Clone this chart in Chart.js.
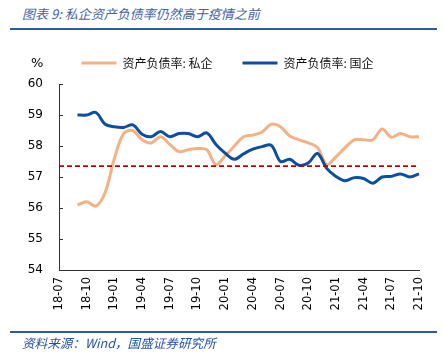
<!DOCTYPE html>
<html>
<head>
<meta charset="utf-8">
<script src="https://cdn.jsdelivr.net/npm/chart.js@4.4.0/dist/chart.umd.min.js"></script>
<style>
body { margin: 0; background: #fff; }
#wrap { position: relative; width: 444px; height: 361px; overflow: hidden; }
#title { position: absolute; left: 22px; top: 4px; font: italic 13px "Noto Sans CJK SC"; color: #4463a0; white-space: nowrap; }
.rule { position: absolute; left: 10px; width: 427px; height: 2px; background: #2f5aa0; }
#src { position: absolute; left: 22px; top: 333px; font: italic 12.6px "Noto Sans CJK SC"; color: #2452a0; white-space: nowrap; }
#unit { position: absolute; left: 31px; top: 55px; font: 13px "DejaVu Sans"; color: #000; }
canvas { position: absolute; left: 0; top: 0; }
</style>
</head>
<body>
<div id="wrap">
  <div id="title">图表 9: 私企资产负债率仍然高于疫情之前</div>
  <div class="rule" style="top:28px"></div>
  <canvas id="chart" width="444" height="361"></canvas>
  <div id="unit">%</div>
  <div class="rule" style="top:331px"></div>
  <div id="src">资料来源：Wind，国盛证券研究所</div>
</div>
<script>
// months on the x axis, every third one gets a label
const months = [
    '18-07', '18-08', '18-09', '18-10', '18-11', '18-12',
    '19-01', '19-02', '19-03', '19-04', '19-05', '19-06', '19-07', '19-08', '19-09', '19-10', '19-11', '19-12',
    '20-01', '20-02', '20-03', '20-04', '20-05', '20-06', '20-07', '20-08', '20-09', '20-10', '20-11', '20-12',
    '21-01', '21-02', '21-03', '21-04', '21-05', '21-06', '21-07', '21-08', '21-09', '21-10'
];

// 资产负债率:私企 (%)
const privateDebt = [
    null, null, 56.1, 56.2, 56.06, 56.5,
    57.6, 58.4, 58.5, 58.2, 58.1, 58.3, 58.05, 57.82, 57.88, 57.92, 57.88, 57.4,
    57.68, 58.0, 58.3, 58.35, 58.45, 58.7, 58.62, 58.32, 58.2, 58.1, 57.95, 57.4,
    57.65, 57.95, 58.2, 58.2, 58.2, 58.55, 58.28, 58.4, 58.3, 58.3
];

// 资产负债率:国企 (%)
const stateDebt = [
    null, null, 59.0, 59.0, 59.08, 58.7,
    58.62, 58.6, 58.68, 58.38, 58.3, 58.47, 58.3, 58.4, 58.4, 58.3, 58.42, 58.05,
    57.77, 57.57, 57.75, 57.9, 57.98, 58.02, 57.5, 57.57, 57.38, 57.45, 57.76, 57.28,
    57.02, 56.88, 56.98, 56.95, 56.8, 57.0, 57.02, 57.1, 57.0, 57.1
];

const seriesNames = ['资产负债率: 私企', '资产负债率: 国企'];
const yMin = 54, yMax = 60;
const preCovidLevel = 57.35;   // red dashed line

const extras = {
    id: 'extras',
    afterLayout(chart) {
        // nudge legend up and right, plot area stays put
        chart.legend.top -= 5;
        chart.legend.left += 18;
        chart.legend.right += 18;
    },
    afterDatasetsDraw(chart) {
        const { ctx, chartArea: a, scales: { y } } = chart;
        ctx.save();
        const py = y.getPixelForValue(preCovidLevel);
        ctx.strokeStyle = '#c00000';
        ctx.lineWidth = 1.6;
        ctx.setLineDash([5, 3]);
        ctx.beginPath();
        ctx.moveTo(a.left, py);
        ctx.lineTo(a.right, py);
        ctx.stroke();

        // small ticks on the inside of the y axis
        ctx.setLineDash([]);
        ctx.strokeStyle = '#333';
        ctx.lineWidth = 1;
        y.ticks.forEach(t => {
            const p = Math.round(y.getPixelForValue(t.value)) + 0.5;
            ctx.beginPath();
            ctx.moveTo(a.left, p);
            ctx.lineTo(a.left + 4, p);
            ctx.stroke();
        });
        ctx.restore();
    }
};

const ctx = document.getElementById('chart').getContext('2d');

new Chart(ctx, {
    type: 'line',
    data: {
        labels: months,
        datasets: [{
            label: seriesNames[0],
            data: privateDebt,
            borderColor: '#f4b183',
            backgroundColor: '#f4b183',
            borderWidth: 3,
            pointRadius: 0,
            tension: 0.35,
            order: 1
        }, {
            label: seriesNames[1],
            data: stateDebt,
            borderColor: '#0b4ea2',
            backgroundColor: '#0b4ea2',
            borderWidth: 3,
            pointRadius: 0,
            tension: 0.35,
            order: 0
        }]
    },
    options: {
        responsive: false,
        animation: false,
        layout: { padding: { top: 32, right: 25, bottom: 0, left: 0 } },
        plugins: {
            tooltip: { enabled: false },
            legend: {
                position: 'top',
                labels: {
                    usePointStyle: true,
                    pointStyle: 'line',
                    pointStyleWidth: 35,
                    padding: 30,
                    color: '#111',
                    font: { family: 'Noto Sans CJK SC', size: 12 },
                    sort: (a, b) => a.datasetIndex - b.datasetIndex
                }
            }
        },
        scales: {
            x: {
                grid: { display: false, drawTicks: false },
                border: { display: true, color: '#333', width: 1 },
                afterFit(s) { s.height = 91; },
                ticks: {
                    autoSkip: false,
                    minRotation: 90,
                    maxRotation: 90,
                    padding: 7,
                    color: '#000',
                    font: { family: 'DejaVu Sans', size: 11.5 },
                    callback: (v, i) => (i % 3 === 0 ? months[i] : '')
                }
            },
            y: {
                min: yMin,
                max: yMax,
                grid: { display: false, drawTicks: false },
                border: { display: true, color: '#333', width: 1 },
                afterFit(s) { s.width = 59; },
                ticks: {
                    stepSize: 1,
                    padding: 16,
                    color: '#000',
                    font: { family: 'DejaVu Sans', size: 12 }
                }
            }
        }
    },
    plugins: [extras]
});
</script>
</body>
</html>
